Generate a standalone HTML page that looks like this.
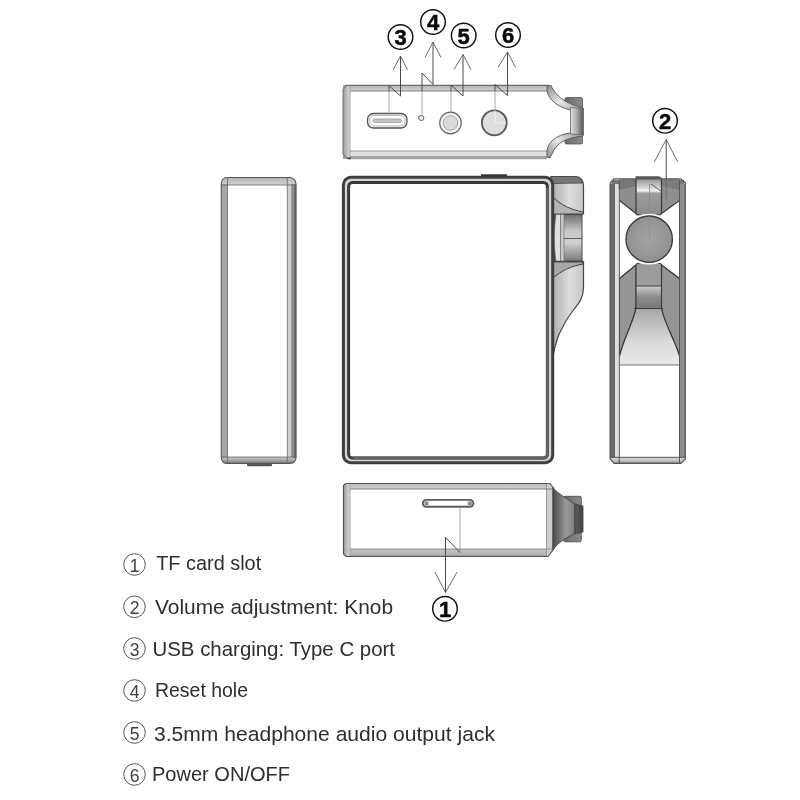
<!DOCTYPE html>
<html><head><meta charset="utf-8">
<style>
html,body{margin:0;padding:0;background:#fff;}
body{width:800px;height:800px;overflow:hidden;font-family:"Liberation Sans",sans-serif;}
svg{display:block;}
text{font-family:"Liberation Sans",sans-serif;}
</style></head><body>
<svg width="800" height="800" viewBox="0 0 800 800">
<defs>
<linearGradient id="gBandH" x1="0" y1="0" x2="0" y2="1"><stop offset="0" stop-color="#b5b5b5"/><stop offset="1" stop-color="#d2d2d2"/></linearGradient>
<linearGradient id="gBandB" x1="0" y1="0" x2="0" y2="1"><stop offset="0" stop-color="#d6d6d6"/><stop offset="0.55" stop-color="#c4c4c4"/><stop offset="1" stop-color="#8a8a8a"/></linearGradient>
<linearGradient id="gBandL" x1="0" y1="0" x2="1" y2="0"><stop offset="0" stop-color="#9a9a9a"/><stop offset="1" stop-color="#d8d8d8"/></linearGradient>
<linearGradient id="gKnobTop" x1="0" y1="0" x2="1" y2="0"><stop offset="0" stop-color="#e2e2e2"/><stop offset="0.45" stop-color="#b0b0b0"/><stop offset="1" stop-color="#555"/></linearGradient>
<linearGradient id="gKnobBack" x1="0" y1="0" x2="1" y2="0"><stop offset="0" stop-color="#6a6a6a"/><stop offset="1" stop-color="#8c8c8c"/></linearGradient>
<linearGradient id="gFlare" x1="0" y1="0" x2="1" y2="1"><stop offset="0" stop-color="#8a8a8a"/><stop offset="0.5" stop-color="#e8e8e8"/><stop offset="1" stop-color="#a0a0a0"/></linearGradient>
<linearGradient id="gFlare2" x1="0" y1="1" x2="1" y2="0"><stop offset="0" stop-color="#8a8a8a"/><stop offset="0.5" stop-color="#e8e8e8"/><stop offset="1" stop-color="#909090"/></linearGradient>
<linearGradient id="gBotFlare" x1="0" y1="0" x2="1" y2="0"><stop offset="0" stop-color="#4a4a4a"/><stop offset="0.6" stop-color="#9a9a9a"/><stop offset="1" stop-color="#7c7c7c"/></linearGradient>
<linearGradient id="gBotFace" x1="0" y1="0" x2="1" y2="0"><stop offset="0" stop-color="#5a5a5a"/><stop offset="1" stop-color="#444"/></linearGradient>
<linearGradient id="gHouse" x1="0" y1="0" x2="1" y2="0"><stop offset="0" stop-color="#a8a8a8"/><stop offset="0.55" stop-color="#dcdcdc"/><stop offset="1" stop-color="#c8c8c8"/></linearGradient>
<linearGradient id="gHouseDark" x1="0" y1="0" x2="1" y2="0"><stop offset="0" stop-color="#8a8a8a"/><stop offset="1" stop-color="#b8b8b8"/></linearGradient>
<linearGradient id="gKnobF" x1="0" y1="0" x2="0" y2="1"><stop offset="0" stop-color="#6e6e6e"/><stop offset="0.35" stop-color="#c6c6c6"/><stop offset="0.6" stop-color="#d0d0d0"/><stop offset="1" stop-color="#7a7a7a"/></linearGradient>
<linearGradient id="gSec2" x1="0" y1="0" x2="0" y2="1"><stop offset="0" stop-color="#cfcfcf"/><stop offset="0.5" stop-color="#8a8a8a"/><stop offset="1" stop-color="#7a7a7a"/></linearGradient>
<linearGradient id="gSec3" x1="0" y1="0" x2="0" y2="1"><stop offset="0" stop-color="#a8a8a8"/><stop offset="0.6" stop-color="#dadada"/><stop offset="1" stop-color="#e8e8e8"/></linearGradient>
<linearGradient id="gColTop" x1="0" y1="0" x2="0" y2="1"><stop offset="0" stop-color="#8a8a8a"/><stop offset="0.28" stop-color="#d4d4d4"/><stop offset="0.36" stop-color="#f4f4f4"/><stop offset="0.42" stop-color="#9c9c9c"/><stop offset="1" stop-color="#8c8c8c"/></linearGradient>
<filter id="noop" x="-5%" y="-5%" width="110%" height="110%"><feOffset dx="0" dy="0"/></filter>
<linearGradient id="gBandB2" x1="0" y1="0" x2="0" y2="1"><stop offset="0" stop-color="#c4c4c4"/><stop offset="0.7" stop-color="#b4b4b4"/><stop offset="1" stop-color="#808080"/></linearGradient>
<radialGradient id="gKnobC" cx="0.5" cy="0.5" r="0.55"><stop offset="0" stop-color="#a4a4a4"/><stop offset="1" stop-color="#8e8e8e"/></radialGradient>
<linearGradient id="gBandB3" x1="0" y1="0" x2="0" y2="1"><stop offset="0" stop-color="#c8c8c8"/><stop offset="0.5" stop-color="#a8a8a8"/><stop offset="1" stop-color="#707070"/></linearGradient>
</defs>

<!-- ============ TOP VIEW ============ -->
<g id="topview">
  <rect x="343" y="85" width="206" height="74" fill="#fff"/>
  <rect x="343" y="85" width="206" height="6" fill="url(#gBandH)"/>
  <rect x="347" y="151.300" width="200" height="5" fill="#e0e0e0"/>
  <path d="M343,151.300 L350,151.300 L350,156 L347,159.300 L343,155 Z" fill="#bdbdbd"/>
  <path d="M346.500,156 L547,156 L547,159.300 L349,159.300 Z" fill="#a4a4a4"/>
  <rect x="343" y="85" width="7" height="74" fill="url(#gBandL)"/>
  <path d="M346,85.400 L548,85.400" fill="none" stroke="#6a6a6a" stroke-width="1.100"/>
  <path d="M346,85.400 L343,90 L343,154 L347.500,158.800" fill="none" stroke="#777" stroke-width="1.100"/>
  <path d="M347.500,158.300 L351,158.300" stroke="#444" stroke-width="1.800"/>
  <line x1="350" y1="91" x2="548" y2="91" stroke="#777" stroke-width="0.900"/>
  <line x1="350" y1="151" x2="547" y2="151" stroke="#888" stroke-width="0.900"/>
  <line x1="350" y1="86" x2="350" y2="158" stroke="#999" stroke-width="0.800"/>
  <!-- knob back -->
  <rect x="565" y="97.500" width="17.500" height="46.500" rx="1.500" fill="url(#gKnobBack)" stroke="#555" stroke-width="0.800"/>
  <path d="M546,91 C549,100 558,107 570.500,109 L570.500,133.500 C556,135 548,142 546,151 Z" fill="#fff"/>
  <!-- flares -->
  <path d="M547,85.500 L551,85.500 C556,96 564,103 583,108 L583,110 L570,110 C558,107 549,100 547,91 Z" fill="url(#gFlare)" stroke="#555" stroke-width="0.900"/>
  <path d="M547,157 L547,151 C548,142 556,135 570,133 L583,133 L583,136 C566,138 557,142 552,154 L550,158 Z" fill="url(#gFlare2)" stroke="#555" stroke-width="0.900"/>
  <!-- knob front -->
  <path d="M570.500,107.500 L583.500,108.500 L583.500,135 L570.500,134 Z" fill="url(#gKnobTop)" stroke="#666" stroke-width="0.800"/>
  <!-- usb -->
  <rect x="367.500" y="113.500" width="39.500" height="14.500" rx="6" fill="#f4f4f4" stroke="#555" stroke-width="1.300"/>
  <rect x="369.500" y="115.500" width="35.500" height="10.500" rx="4.500" fill="#fafafa" stroke="#aaa" stroke-width="0.800"/>
  <rect x="373" y="119" width="28.500" height="3.500" rx="1.700" fill="#c4c4c4" stroke="#999" stroke-width="0.800"/>
  <!-- reset -->
  <circle cx="421.300" cy="118" r="2.600" fill="#e8e8e8" stroke="#666" stroke-width="1"/>
  <!-- jack -->
  <circle cx="450.500" cy="123" r="10.800" fill="#f2f2f2" stroke="#666" stroke-width="1.200"/>
  <circle cx="450.500" cy="123" r="7.200" fill="#dadada" stroke="#999" stroke-width="0.900"/>
  <!-- power -->
  <circle cx="494.300" cy="122.800" r="12.400" fill="#dedede" stroke="#5a5a5a" stroke-width="1.900"/>
</g>

<!-- ============ LEFT SIDE VIEW ============ -->
<g id="leftview">
  <path d="M226.500,177.500 L290,177.500 Q295.500,178 296,184 L296,458 Q295.500,463 290,463.500 L226.500,463.500 Q221.800,463 221.300,458 L221.300,184 Q221.800,178 226.500,177.500 Z" fill="#fff"/>
  <path d="M226.500,177.500 L290,177.500 Q295.500,178 296,184 L296,185 L221.300,185 L221.300,184 Q221.800,178 226.500,177.500 Z" fill="url(#gBandH)"/>
  <path d="M221.300,457 L296,457 L296,458 Q295.500,463 290,463.500 L226.500,463.500 Q221.800,463 221.300,458 Z" fill="url(#gBandB3)"/>
  <rect x="221.300" y="184" width="6.200" height="274" fill="#a6a6a6"/>
  <rect x="287.300" y="184" width="5" height="274" fill="#d0d0d0"/>
  <rect x="291.500" y="184" width="2.500" height="274" fill="#989898"/>
  <rect x="293.800" y="184" width="2.400" height="274" fill="#6e6e6e"/>
  <path d="M226.500,177.500 L290,177.500 Q295.500,178 296,184 L296,458 Q295.500,463 290,463.500 L226.500,463.500 Q221.800,463 221.300,458 L221.300,184 Q221.800,178 226.500,177.500 Z" fill="none" stroke="#555" stroke-width="1.100"/>
  <path d="M221.300,185 L296,185 M221.300,457 L296,457 M227.500,178 L227.500,463 M287.300,178 L287.300,463" stroke="#666" stroke-width="0.800" fill="none"/>
  <line x1="292" y1="184" x2="292" y2="458" stroke="#777" stroke-width="0.700"/>
  <rect x="247" y="463.500" width="25" height="2.800" rx="1" fill="#555"/>
</g>

<!-- ============ FRONT VIEW ============ -->
<g id="frontview">
  <!-- housing upper -->
  <path d="M551,176.500 L575,176.500 Q583.500,177 583.500,186 L583.500,214 L551,214 Z" fill="url(#gHouse)" stroke="#444" stroke-width="1.200"/>
  <path d="M551,176.500 L575,176.500 Q581,177 582.500,183 L551,183.500 Z" fill="#777" stroke="#444" stroke-width="0.800"/>
  <path d="M552,196 C560,205 572,210 583,212 L583,214 L552,214 Z" fill="#b4b4b4" stroke="#444" stroke-width="1"/>
  <!-- knob -->
  <rect x="552" y="214.500" width="30" height="46.500" fill="url(#gKnobF)" stroke="#444" stroke-width="1"/>
  <rect x="552" y="214.500" width="4" height="46.500" fill="#4a4a4a"/>
  <path d="M556,214.500 Q552.500,238 556,261 L560.500,261 L560.500,214.500 Z" fill="#e0e0e0" stroke="#666" stroke-width="0.600"/>
  <rect x="560.500" y="214.500" width="3.500" height="46.500" fill="#c8c8c8" stroke="#666" stroke-width="0.600"/>
  <line x1="564" y1="238.500" x2="582" y2="238.500" stroke="#555" stroke-width="0.900"/>
  <!-- housing lower -->
  <path d="M551,261.500 L583.500,261.500 L583.500,288 C583,300 578,304 573.500,310 C569,316 566,320 563.800,325 C560,332 558,336 557,340 C555,346 554,351 553.300,355 L552.500,368 L551,368 Z" fill="url(#gHouse)" stroke="#444" stroke-width="1.200"/>
  <path d="M552,262 L583,262 L583,264 C572,266 560,271 552,279 Z" fill="#a8a8a8" stroke="#444" stroke-width="1"/>
  <!-- body -->
  <rect x="343.400" y="177.300" width="209.300" height="285.400" rx="7.500" fill="#d4d4d4" stroke="#3e3e3e" stroke-width="3"/>
  <rect x="348.600" y="182.500" width="198.800" height="275.500" rx="4" fill="#fff" stroke="#3a3a3a" stroke-width="3"/>
  <path d="M547.400,188 L547.400,454 Q547.400,458 543.400,458 L353,458" fill="none" stroke="#626262" stroke-width="3"/>
  <rect x="481" y="174.300" width="26" height="2.200" fill="#333"/>
</g>

<!-- ============ RIGHT SIDE VIEW ============ -->
<g id="rightview">
  <path d="M614,178.800 L681,178.800 L685.300,183 L685.300,459 L681,463.300 L614,463.300 L610.200,459 L610.200,183 Z" fill="#fff"/>
  <!-- top dark zone -->
  <path d="M619.500,179 L679.500,179 L679.500,200.500 L661.500,213.500 L636,213.500 L619.500,200.500 Z" fill="#8e8e8e"/>
  <path d="M612,180 L636,180 L636,186 L619.500,190 L611,186 Z" fill="#777"/>
  <path d="M661.500,180 L684,180 L684.500,186 L679.500,190 L661.500,186 Z" fill="#7c7c7c"/>
  <rect x="636" y="177" width="25.500" height="38.500" fill="url(#gColTop)"/>
  <path d="M635.300,176.200 L659.300,176.200 L661.500,178.800 L636,178.800 Z" fill="#555"/>
  <path d="M636,179 L636,214 M661.500,179 L661.500,214" stroke="#3c3c3c" stroke-width="1.300" fill="none"/>
  <path d="M619.500,200.500 L636,213.500 M679.500,200.500 L661.500,213.500" stroke="#3c3c3c" stroke-width="1.300" fill="none"/>
  <path d="M636,214 Q649,218.500 661.500,214" stroke="#3c3c3c" stroke-width="1" fill="none"/>
  <path d="M651,184 L661.500,191.500" stroke="#555" stroke-width="0.900"/>
  <line x1="649.500" y1="184" x2="649.500" y2="240" stroke="#888" stroke-width="0.700"/>
  <!-- lower structure -->
  <path d="M619.500,278.500 L636,265 L636,308.500 C632,325 624,338 619.500,356 Z" fill="#959595" stroke="#3c3c3c" stroke-width="1"/>
  <path d="M679.500,278.500 L661.500,265 L661.500,308.500 C665,325 674,338 679.500,356 Z" fill="#959595" stroke="#3c3c3c" stroke-width="1"/>
  <rect x="636" y="263.500" width="25.500" height="22.500" fill="#9c9c9c"/>
  <rect x="636" y="286" width="25.500" height="22.500" fill="url(#gSec2)"/>
  <path d="M636,308.500 L661.500,308.500 C665,325 674,338 679.500,356 L679.500,365 L619.500,365 L619.500,356 C624,338 632,325 636,308.500 Z" fill="url(#gSec3)"/>
  <path d="M636,264 L636,308.500 M661.500,264 L661.500,308.500 M636,286 L661.500,286 M634,308.500 L663,308.500" stroke="#3c3c3c" stroke-width="1.200" fill="none"/>
  <path d="M636,264 Q649,259.500 661.500,264" stroke="#3c3c3c" stroke-width="1" fill="none"/>
  <line x1="619.500" y1="365" x2="679.500" y2="365" stroke="#666" stroke-width="0.900"/>
  <path d="M636,308.500 C632,325 624,338 619.500,356 M661.500,308.500 C665,325 674,338 679.500,356" fill="none" stroke="#3a3a3a" stroke-width="1.200"/>
  <path d="M619.500,278.500 L636,265 M679.500,278.500 L661.500,265" fill="none" stroke="#3a3a3a" stroke-width="1.100"/>
  <!-- knob -->
  <circle cx="649.200" cy="239.200" r="24.600" fill="none" stroke="#fff" stroke-width="1.600"/>
  <circle cx="649.200" cy="239.200" r="23.200" fill="url(#gKnobC)" stroke="#3c3c3c" stroke-width="1.400"/>
  <line x1="649.500" y1="216" x2="649.500" y2="240" stroke="#8a8a8a" stroke-width="0.600"/>
  <!-- bands -->
  <rect x="609.800" y="184" width="5.200" height="274" fill="#6a6a6a"/>
  <rect x="615" y="184" width="3.700" height="274" fill="#dedede"/>
  <rect x="679" y="184" width="6.200" height="274" fill="#8c8c8c"/>
  <path d="M610.200,457.300 L685.300,457.300 L685.300,459 L681,463.300 L614,463.300 L610.200,459 Z" fill="url(#gBandB)"/>
  <path d="M619.300,180 L619.300,463 M679.500,180 L679.500,463 M610.200,457.300 L685.300,457.300" stroke="#555" stroke-width="1" fill="none"/>
  <path d="M614,178.800 L681,178.800 L685.300,183 L685.300,459 L681,463.300 L614,463.300 L610.200,459 L610.200,183 Z" fill="none" stroke="#555" stroke-width="1.200"/>
</g>

<!-- ============ BOTTOM VIEW ============ -->
<g id="bottomview">
  <clipPath id="cpBot"><path d="M345.500,483.500 L550,483.500 L553,487.500 L553,550 L548,556.500 L346,556.500 L343.500,554 L343.500,485.500 Z"/></clipPath>
  <g clip-path="url(#cpBot)">
  <rect x="343" y="483" width="210" height="74" fill="#fff"/>
  <rect x="343" y="483" width="210" height="6" fill="url(#gBandH)"/>
  <rect x="343" y="549" width="210" height="8" fill="url(#gBandB2)"/>
  <rect x="343" y="483" width="7" height="74" fill="url(#gBandL)"/>
  <rect x="546.500" y="483" width="6.500" height="74" fill="#cfcfcf"/>
  </g>
  <path d="M345.500,483.500 L550,483.500 L553,487.500 L553,550 L548,556.500 L346,556.500 L343.500,554 L343.500,485.500 Z" fill="none" stroke="#555" stroke-width="1.200"/>
  <line x1="350" y1="489" x2="553" y2="489" stroke="#777" stroke-width="0.900"/>
  <line x1="350" y1="549" x2="553" y2="549" stroke="#888" stroke-width="0.900"/>
  <line x1="350" y1="484" x2="350" y2="556" stroke="#999" stroke-width="0.800"/>
  <line x1="546.500" y1="484" x2="546.500" y2="556" stroke="#888" stroke-width="0.800"/>
  <!-- back knob -->
  <rect x="563.800" y="496.300" width="17.500" height="45.500" rx="1.500" fill="url(#gKnobBack)" stroke="#444" stroke-width="0.800"/>
  <!-- flare -->
  <path d="M553,487.500 C556,492 564,497 575,504 L575,533.500 C566,538 557,543 553,550 Z" fill="url(#gBotFlare)" stroke="#444" stroke-width="0.900"/>
  <path d="M575,504 L583,506 L583,532 L575,533.500 Z" fill="url(#gBotFace)" stroke="#3a3a3a" stroke-width="0.800"/>
  <!-- TF slot -->
  <rect x="422.800" y="499.900" width="50.600" height="6.900" rx="3.450" fill="#fff" stroke="#5c5c5c" stroke-width="1.900"/>
  <path d="M424.500,501.500 L428.500,501.500 L428.500,505.200 L424.500,505.200 Z M467.800,501.500 L471.800,501.500 L471.800,505.200 L467.800,505.200 Z" fill="#8a8a8a"/>
</g>

<!-- ============ ARROWS ============ -->
<g fill="none" stroke="#8c8c8c" stroke-width="0.750">
  <path d="M389,91 L389,114"/>
  <path d="M422,91 L422,114.500"/>
  <path d="M451,91 L451,112"/>
  <path d="M495,91 L495,110"/>
  <path d="M460,507.800 L460,552"/>
  <path d="M666.200,179 L666.200,199" stroke="#666"/>
</g>
<g fill="none" stroke="#f2f2f2" stroke-width="1">
  <path d="M495,110.500 L495,122.800 L506,122.800"/>
</g>
<g fill="none" stroke="#4a4a4a" stroke-width="1">
  <path d="M400.500,56 L400.500,96 L389,85.500 L389,91" />
  <path d="M433,42 L433,84.500 L422,73 L422,91" />
  <path d="M463,54.500 L463,96 L451,85 L451,91" />
  <path d="M507.500,52 L507.500,95.500 L495,84.500 L495,91" />
  <path d="M666.200,139.500 L666.200,179" />
  <path d="M460,552.500 L445.500,537.500 L445.500,592.500" />
</g>
<g fill="none" stroke="#5a5a5a" stroke-width="0.900">
  <path d="M393,70 L400.500,56 L407.500,70" />
  <path d="M425,57.500 L433,42 L441,57.500" />
  <path d="M454,69.500 L463,54.500 L471,69.500" />
  <path d="M498,67.500 L507.500,52 L515.500,67.500" />
  <path d="M654.300,162 L666.200,139.500 L677.800,162" />
  <path d="M435,572 L445.500,592.500 L457,572" />
</g>

<!-- ============ NUMBER BADGES ============ -->
<g fill="#fff" stroke="#111" stroke-width="1.450">
  <circle cx="400.500" cy="37" r="12.300"/>
  <circle cx="433" cy="22" r="12.300"/>
  <circle cx="463.700" cy="35.500" r="12.300"/>
  <circle cx="508" cy="35" r="12.300"/>
  <circle cx="665" cy="120.800" r="12.300"/>
  <circle cx="445" cy="608.800" r="12.300"/>
</g>
<g font-weight="bold" font-size="22" fill="#0a0a0a" stroke="#0a0a0a" stroke-width="0.500" text-anchor="middle" filter="url(#noop)">
  <text x="400.500" y="45">3</text>
  <text x="433" y="30">4</text>
  <text x="463.700" y="43.500">5</text>
  <text x="508" y="43">6</text>
  <text x="665" y="128.700">2</text>
  <text x="445" y="616.800">1</text>
</g>

<!-- ============ LEGEND ============ -->
<g fill="none" stroke="#555" stroke-width="1">
  <circle cx="134.500" cy="564.5" r="10.800"/>
  <circle cx="134.500" cy="606.8" r="10.800"/>
  <circle cx="134.500" cy="648.5" r="10.800"/>
  <circle cx="134.500" cy="690.5" r="10.800"/>
  <circle cx="134.500" cy="732.5" r="10.800"/>
  <circle cx="134.500" cy="774.5" r="10.800"/>
</g>
<g font-size="17.500" fill="#404040" text-anchor="middle" filter="url(#noop)">
  <text x="134.500" y="572.1">1</text>
  <text x="134.500" y="614.4">2</text>
  <text x="134.500" y="656.1">3</text>
  <text x="134.500" y="698.1">4</text>
  <text x="134.500" y="740.1">5</text>
  <text x="134.500" y="782.1">6</text>
</g>
<g font-size="20.500" fill="#2e2e2e" filter="url(#noop)">
  <text x="156.2" y="570" textLength="105" lengthAdjust="spacingAndGlyphs">TF card slot</text>
  <text x="155" y="614" textLength="238" lengthAdjust="spacingAndGlyphs">Volume adjustment: Knob</text>
  <text x="152.5" y="655.5" textLength="242.5" lengthAdjust="spacingAndGlyphs">USB charging: Type C port</text>
  <text x="155" y="697" textLength="93" lengthAdjust="spacingAndGlyphs">Reset hole</text>
  <text x="154" y="740.5" textLength="341" lengthAdjust="spacingAndGlyphs">3.5mm headphone audio output jack</text>
  <text x="152" y="781" textLength="138" lengthAdjust="spacingAndGlyphs">Power ON/OFF</text>
</g>
</svg>
</body></html>
